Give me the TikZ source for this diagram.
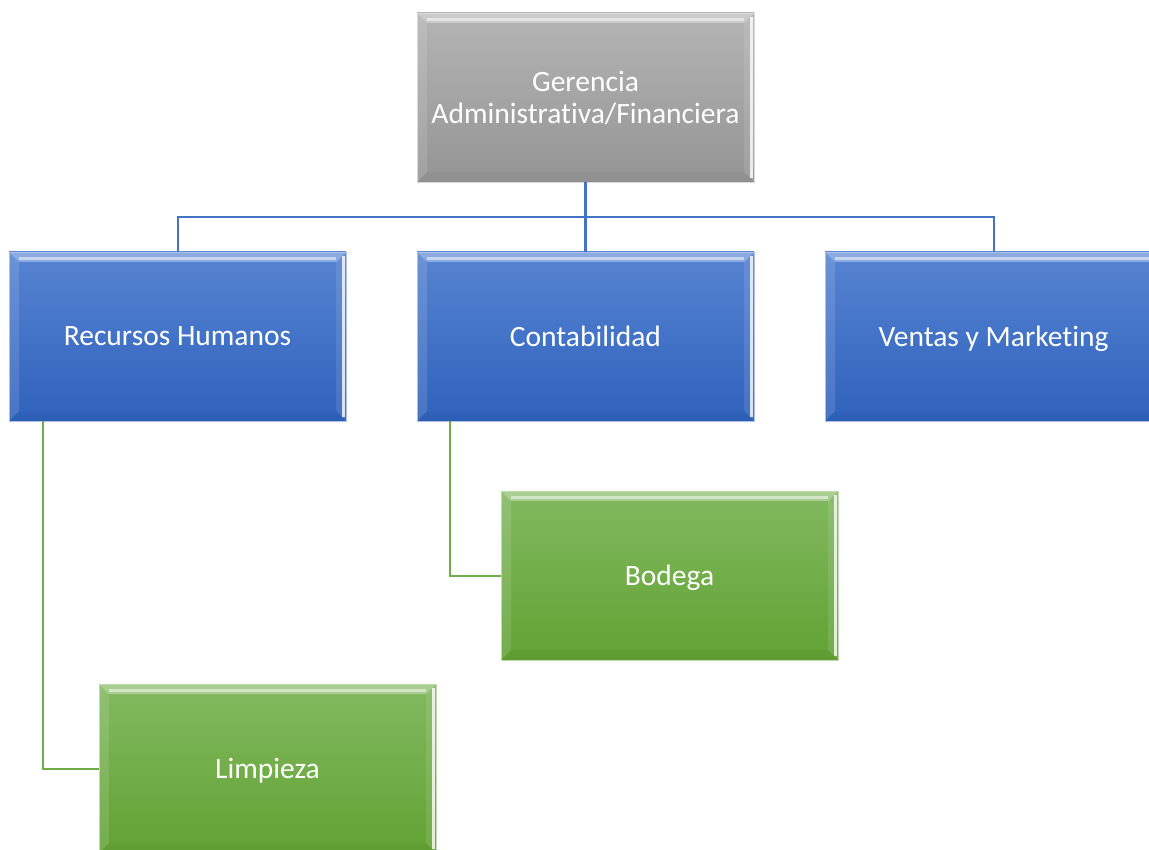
\documentclass[tikz,border=0pt]{standalone}
\usepackage{fontspec}
\newfontfamily\carlito[Ligatures=NoCommon]{Carlito}
\usetikzlibrary{calc}
\definecolor{bluetop}{HTML}{5784D2}
\definecolor{bluebot}{HTML}{2F62BC}
\definecolor{graytop}{HTML}{B4B4B4}
\definecolor{graybot}{HTML}{959595}
\definecolor{greentop}{HTML}{82B960}
\definecolor{greenbot}{HTML}{62A233}
\definecolor{blueline}{HTML}{4472C4}
\definecolor{greenline}{HTML}{70AD47}
\tikzset{
  bevel/.style={path picture={
    \fill[white,opacity=0.32] (path picture bounding box.north west) -- (path picture bounding box.north east)
      -- ([xshift=-10pt,yshift=-10pt]path picture bounding box.north east) -- ([xshift=10pt,yshift=-10pt]path picture bounding box.north west) -- cycle;
    \fill[white,opacity=0.5] ([xshift=10pt,yshift=-5pt]path picture bounding box.north west) rectangle ([xshift=-10pt,yshift=-8pt]path picture bounding box.north east);
    \fill[white,opacity=0.12] (path picture bounding box.north west) -- ([xshift=10pt,yshift=-10pt]path picture bounding box.north west)
      -- ([xshift=10pt,yshift=10pt]path picture bounding box.south west) -- (path picture bounding box.south west) -- cycle;
    \fill[white,opacity=0.10] (path picture bounding box.north east) -- ([xshift=-10pt,yshift=-10pt]path picture bounding box.north east)
      -- ([xshift=-10pt,yshift=10pt]path picture bounding box.south east) -- (path picture bounding box.south east) -- cycle;
    \fill[white,opacity=0.8] ([xshift=-4pt,yshift=-4pt]path picture bounding box.north east) rectangle ([xshift=-1.5pt,yshift=4pt]path picture bounding box.south east);
    \fill[black,opacity=0.03] (path picture bounding box.south west) -- ([xshift=10pt,yshift=10pt]path picture bounding box.south west)
      -- ([xshift=-10pt,yshift=10pt]path picture bounding box.south east) -- (path picture bounding box.south east) -- cycle;
  }},
  orgbox/.style={rectangle, minimum width=337pt, minimum height=169pt, inner sep=0pt,
    text=white, align=center, font=\carlito\fontsize{29.5}{32}\selectfont, bevel},
  oneline/.style={text depth=0pt},
  bluebox/.style={orgbox, top color=bluetop, bottom color=bluebot, draw=bluetop!50!white, line width=0.8pt},
  graybox/.style={orgbox, top color=graytop, bottom color=graybot, draw=graytop!50!white, line width=0.8pt},
  greenbox/.style={orgbox, top color=greentop, bottom color=greenbot, draw=greentop!50!white, line width=0.8pt},
  bluelink/.style={draw=blueline, line width=2pt},
  greenlink/.style={draw=greenline, line width=2pt},
}
\begin{document}
\begin{tikzpicture}[x=1pt,y=-1pt]
\useasboundingbox (0,0) rectangle (1149,850);
\clip (0,0) rectangle (1149,850);
\fill[white] (0,0) rectangle (1149,850);
\node[graybox] (ger) at (585.5,97.5) {Gerencia\\Administrativa/Financiera};
\node[bluebox,oneline] (rh) at (177.5,336.5) {Recursos Humanos};
\node[bluebox,oneline] (conta) at (585.5,336.5) {Contabilidad};
\node[bluebox,oneline] (ventas) at (993.5,336.5) {Ventas y Marketing};
\node[greenbox,oneline] (bod) at (669.5,575.5) {Bodega};
\node[greenbox,oneline] (limp) at (267.5,768.5) {Limpieza};
\coordinate (bus) at ($(ger.south)+(0,35)$);
\draw[bluelink] (bus) -| (rh.north);
\draw[bluelink] (bus) -| (ventas.north);
\draw[bluelink, line width=3pt] (ger.south) -- (conta.north);
\draw[greenlink] ([xshift=34pt]rh.south west) |- (limp.west);
\draw[greenlink] ([xshift=33pt]conta.south west) |- (bod.west);
\end{tikzpicture}
\end{document}
